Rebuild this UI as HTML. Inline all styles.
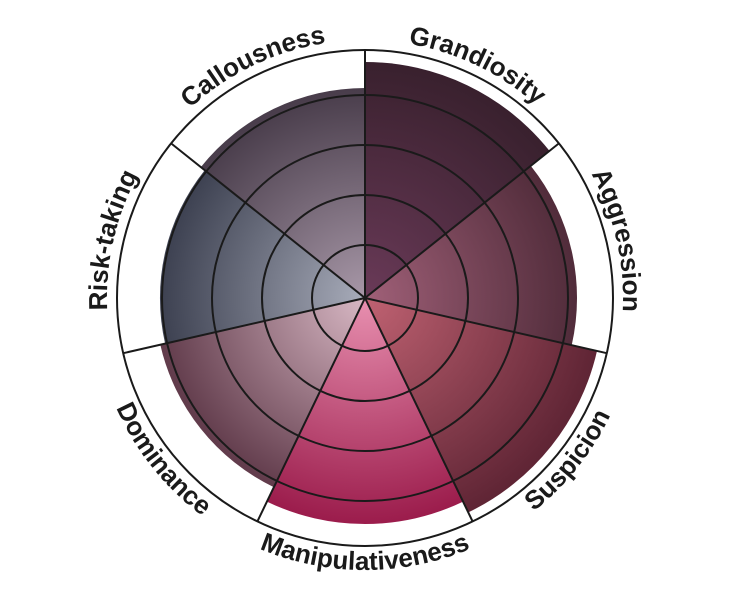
<!DOCTYPE html>
<html><head><meta charset="utf-8"><style>
html,body{margin:0;padding:0;background:#fff;}
svg{display:block;}
text{font-family:"Liberation Sans",sans-serif;font-weight:bold;font-size:26px;fill:#1a1a1a;}
</style></head><body>
<svg width="732" height="600" viewBox="0 0 732 600" xmlns="http://www.w3.org/2000/svg">
<defs>
<radialGradient id="gG" gradientUnits="userSpaceOnUse" cx="365" cy="298" r="240"><stop offset="0" stop-color="#6a3a58"/><stop offset="1" stop-color="#38202d"/></radialGradient>
<radialGradient id="gA" gradientUnits="userSpaceOnUse" cx="365" cy="298" r="220"><stop offset="0" stop-color="#a06078"/><stop offset="1" stop-color="#4e2a38"/></radialGradient>
<radialGradient id="gS" gradientUnits="userSpaceOnUse" cx="365" cy="298" r="240"><stop offset="0" stop-color="#c06272"/><stop offset="1" stop-color="#5e2434"/></radialGradient>
<radialGradient id="gM" gradientUnits="userSpaceOnUse" cx="365" cy="298" r="230"><stop offset="0" stop-color="#e890b0"/><stop offset="1" stop-color="#9a1a4a"/></radialGradient>
<radialGradient id="gD" gradientUnits="userSpaceOnUse" cx="365" cy="298" r="215"><stop offset="0" stop-color="#d8b8c4"/><stop offset="1" stop-color="#5e3848"/></radialGradient>
<radialGradient id="gR" gradientUnits="userSpaceOnUse" cx="365" cy="298" r="210"><stop offset="0" stop-color="#a8acba"/><stop offset="1" stop-color="#3a3e4e"/></radialGradient>
<radialGradient id="gC" gradientUnits="userSpaceOnUse" cx="365" cy="298" r="215"><stop offset="0" stop-color="#a898a8"/><stop offset="1" stop-color="#463a48"/></radialGradient>
<path id="pG" d="M301.3,48 A258,258 0 0 1 600.1,191.8"/>
<path id="pA" d="M520.8,92.3 A258,258 0 0 1 594.6,415.7"/>
<path id="pR" d="M135.4,415.7 A258,258 0 0 1 209.2,92.3"/>
<path id="pC" d="M129.9,191.8 A258,258 0 0 1 428.7,48"/>
<path id="pS" d="M418.9,564.6 A272,272 0 0 0 636.9,291.2"/>
<path id="pM" d="M190.2,506.4 A272,272 0 0 0 539.8,506.4"/>
<path id="pD" d="M93.1,291.2 A272,272 0 0 0 311.1,564.6"/>
</defs>
<path d="M365,298 L365,62 A236,236 0 0 1 549.5,150.9 Z" fill="url(#gG)"/>
<path d="M365,298 L530.7,165.8 A212,212 0 0 1 571.7,345.2 Z" fill="url(#gA)"/>
<path d="M365,298 L597,351 A238,238 0 0 1 468.3,512.4 Z" fill="url(#gS)"/>
<path d="M365,298 L463.1,501.6 A226,226 0 0 1 266.9,501.6 Z" fill="url(#gM)"/>
<path d="M365,298 L273.9,487.2 A210,210 0 0 1 160.3,344.7 Z" fill="url(#gD)"/>
<path d="M365,298 L165.1,343.6 A205,205 0 0 1 204.7,170.2 Z" fill="url(#gR)"/>
<path d="M365,298 L200.8,167.1 A210,210 0 0 1 365,88 Z" fill="url(#gC)"/>
<g fill="none" stroke="#1a1a1a" stroke-width="2">
<circle cx="365" cy="298" r="53"/>
<circle cx="365" cy="298" r="103"/>
<circle cx="365" cy="298" r="153"/>
<circle cx="365" cy="298" r="203"/>
<circle cx="365" cy="298" r="248"/>
<path d="M365,298 L365,50 M365,298 L558.9,143.4 M365,298 L606.8,353.2 M365,298 L472.6,521.4 M365,298 L257.4,521.4 M365,298 L123.2,353.2 M365,298 L171.1,143.4"/>
</g>
<text><textPath href="#pG" startOffset="50%" text-anchor="middle">Grandiosity</textPath></text>
<text><textPath href="#pA" startOffset="50%" text-anchor="middle">Aggression</textPath></text>
<text><textPath href="#pR" startOffset="50%" text-anchor="middle">Risk-taking</textPath></text>
<text><textPath href="#pC" startOffset="50%" text-anchor="middle">Callousness</textPath></text>
<text><textPath href="#pS" startOffset="50%" text-anchor="middle">Suspicion</textPath></text>
<text><textPath href="#pM" startOffset="50%" text-anchor="middle">Manipulativeness</textPath></text>
<text><textPath href="#pD" startOffset="50%" text-anchor="middle">Dominance</textPath></text>
</svg>
</body></html>
